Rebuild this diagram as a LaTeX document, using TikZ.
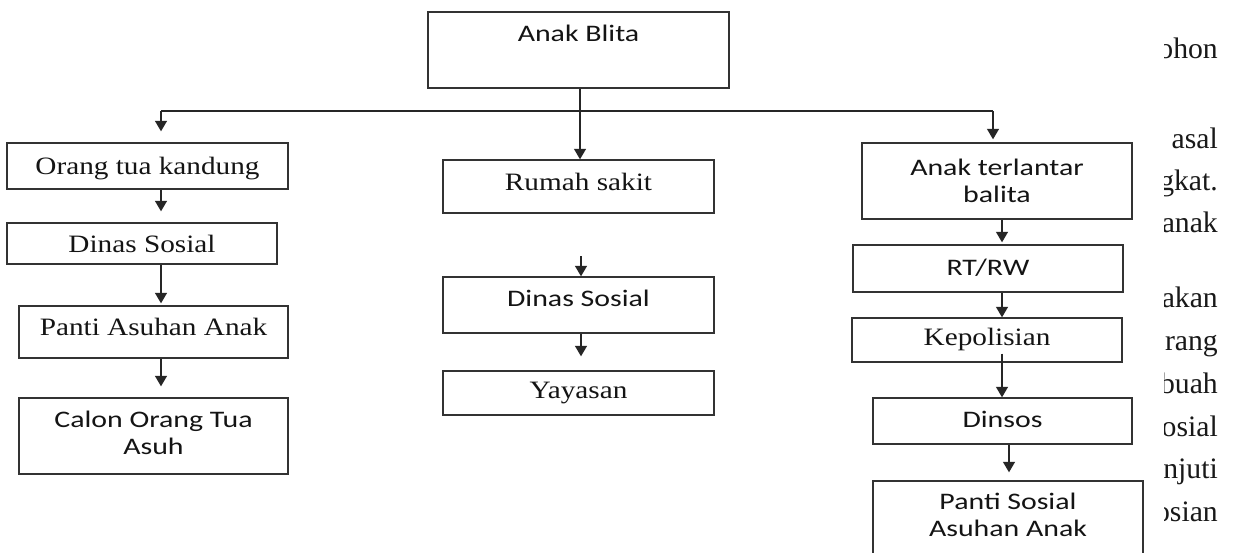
\documentclass[tikz,border=0pt]{standalone}
\usepackage{fontspec}
\setmainfont{Liberation Serif}
\newfontfamily\boxserif[FakeStretch=1.17]{Liberation Serif}
\newfontfamily\boxsans[FakeStretch=1.26]{Carlito}
\usetikzlibrary{arrows.meta}
\begin{document}
\begin{tikzpicture}[x=1pt,y=-1pt,
  bx/.style={draw=black!80, line width=1.4pt, rectangle, inner sep=0pt, align=center, text=black!92},
  rmf/.style={font=\boxserif\fontsize{25}{28}\selectfont},
  sff/.style={font=\boxsans\fontsize{23.7}{27}\selectfont},
  tshift/.style={text height=#1, text depth=6pt},
  ln/.style={line width=1.3pt, draw=black!85},
  arr/.style={ln, -{Triangle[width=12pt,length=10.5pt]}},
  mg/.style={anchor=base east, inner sep=0pt, text=black!90, font=\fontsize{29.7}{34}\selectfont}]
\useasboundingbox (0,0) rectangle (1233,552);
\fill[white] (0,0) rectangle (1233,552);

% top
\node[bx, sff, minimum width=301pt, minimum height=76pt, text height=4pt, text depth=22pt] (blita) at (578.5,50) {Anak Blita};

% left column
\node[bx, rmf, tshift=22pt, minimum width=281pt, minimum height=46pt] (orang) at (147.5,166) {Orang tua kandung};
\node[bx, rmf, tshift=23pt, minimum width=270pt, minimum height=41pt] (dinasL) at (142,243.5) {Dinas Sosial};
\node[bx, rmf, tshift=12pt, minimum width=269pt, minimum height=52pt] (panti) at (153.5,332) {Panti Asuhan Anak};
\node[bx, sff, minimum width=269pt, minimum height=76pt] (calon) at (153.5,436) {Calon Orang Tua\\Asuh\rule[-6pt]{0pt}{0pt}};

% middle column
\node[bx, rmf, tshift=13pt, minimum width=271pt, minimum height=53pt] (rumah) at (578.5,186.5) {Rumah sakit};
\node[bx, sff, tshift=8pt, minimum width=271pt, minimum height=56pt] (dinasM) at (578.5,305) {Dinas Sosial};
\node[bx, rmf, tshift=16pt, minimum width=271pt, minimum height=44pt] (yayasan) at (578.5,393) {Yayasan};

% right column
\node[bx, sff, minimum width=270pt, minimum height=76pt] (terl) at (997,181) {Anak terlantar\\balita};
\node[bx, sff, tshift=19pt, minimum width=270pt, minimum height=47pt] (rtrw) at (988,268.5) {RT/RW};
\node[bx, rmf, tshift=16pt, minimum width=270pt, minimum height=44pt] (kepol) at (987,340) {Kepolisian};
\node[bx, sff, tshift=18pt, minimum width=259pt, minimum height=46pt] (dinsos) at (1002.5,421) {Dinsos};
\node[bx, sff, minimum width=270pt, minimum height=76pt] (pss) at (1008,519) {Panti Sosial\\Asuhan Anak\rule[-8pt]{0pt}{0pt}};

% helper coordinates
\coordinate (br) at (580,111);
\coordinate (jL) at (161,111);
\coordinate (jR) at (993,111);
\coordinate (colL) at (161,0);
\coordinate (colM) at (581,0);
\coordinate (colR) at (1002,0);
\coordinate (colRb) at (1009,0);
\coordinate (mfree) at (581,256);

% connectors
\draw[arr] (blita.south -| br) -- (rumah.north -| br);
\draw[ln] (jL) -- (jR);
\draw[arr, shorten >=11pt] (jL) -- (jL |- orang.north);
\draw[arr, shorten >=3pt] (jR) -- (jR |- terl.north);
\draw[arr, shorten >=11pt] (orang.south -| colL) -- (dinasL.north -| colL);
\draw[arr, shorten >=2pt] (dinasL.south -| colL) -- (panti.north -| colL);
\draw[arr, shorten >=11pt] (panti.south -| colL) -- (calon.north -| colL);
\draw[arr] (mfree) -- (dinasM.north -| mfree);
\draw[arr, shorten >=14pt] (dinasM.south -| colM) -- (yayasan.north -| colM);
\draw[arr, shorten >=2pt] (terl.south -| colR) -- (rtrw.north -| colR);
\draw[arr] (rtrw.south -| colR) -- (kepol.north -| colR);
\draw[arr, shorten <=-9pt] (kepol.south -| colR) -- (dinsos.north -| colR);
\draw[arr, shorten >=8pt] (dinsos.south -| colRb) -- (pss.north -| colRb);

% cut-off page text at the right margin
\begin{scope}
\clip (1164,0) rectangle (1233,552);
\node[mg] (w1) at (1218,58) {pohon};
\node[mg] (w2) at (1218,148) {asal};
\node[mg] (w3) at (1218,190) {ngkat.};
\node[mg] (w4) at (1218,232) {anak};
\node[mg] (w5) at (1218,307) {akan};
\node[mg] (w6) at (1218,350) {orang};
\node[mg] (w7) at (1218,393) {ebuah};
\node[mg] (w8) at (1218,436) {sosial};
\node[mg] (w9) at (1218,478) {anjuti};
\node[mg] (w10) at (1218,521) {posian};
\end{scope}
\end{tikzpicture}
\end{document}
